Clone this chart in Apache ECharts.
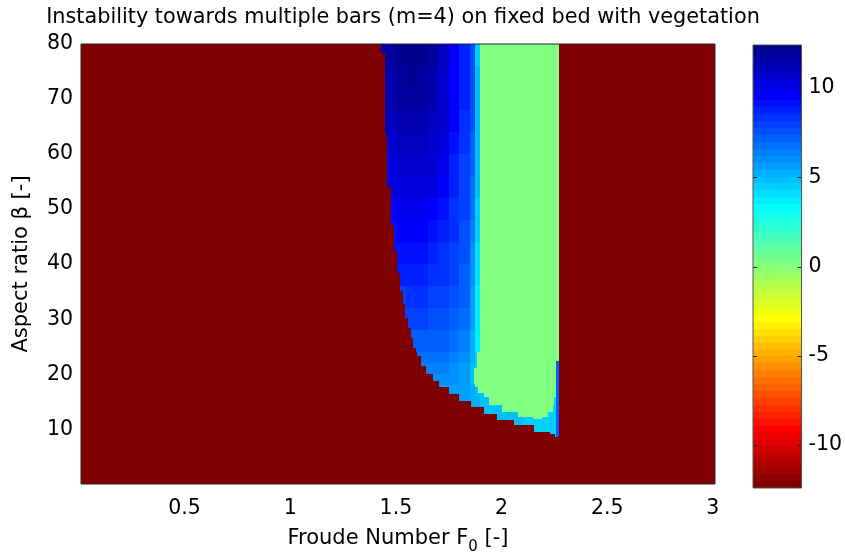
<!DOCTYPE html>
<html><head><meta charset="utf-8">
<script src="https://cdn.jsdelivr.net/npm/echarts@6/dist/echarts.min.js"></script>
<style>html,body{margin:0;padding:0;background:#fff}#c{width:845px;height:560px}</style>
</head><body><div id="c"></div>
<script>
// ---------------- data ----------------
const titleText = 'Instability towards multiple bars (m=4) on fixed bed with vegetation';
const xRange = [0.01, 3.01];
const yRange = [0.05, 80];
const xTicks = [0.5, 1, 1.5, 2, 2.5, 3];
const yTicks = [10, 20, 30, 40, 50, 60, 70, 80];
const cbTicks = [-10, -5, 0, 5, 10];
const cRange = [-12.42, 12.42];
const stableValue = -12.42;     // stable area (dark red)
const greenValue = 0;           // plateau (light green)

// left boundary of the unstable region: step tops (beta) and x (F0) of each step
const leftStepTop = [80, 78.4, 63.6, 54.0, 47.1, 42.3, 38.4, 35.1, 32.7, 30.3, 28.4, 26.6, 24.8, 23.3, 21.5, 20.0, 18.8, 17.6, 16.4, 15.2, 14.0, 12.8, 11.6, 10.7, 9.5, 9.2];
const leftStepX   = [1.428, 1.447, 1.460, 1.476, 1.489, 1.504, 1.520, 1.532, 1.545, 1.558, 1.570, 1.583, 1.596, 1.618, 1.641, 1.674, 1.705, 1.752, 1.800, 1.854, 1.917, 1.980, 2.059, 2.154, 2.230, 2.255];
const leftStepBottom = 8.6;
const rightEdgeX = 2.274;

// growth rate in the unstable region (row bands of beta, column bands of F0)
const valRowEdges = [80, 76, 72, 68, 64, 60, 56, 52, 48, 44, 40, 36, 32, 28, 24, 22, 20, 18, 16, 14, 12, 10, 8];
const valColEdges = [1.40, 1.45, 1.50, 1.55, 1.60, 1.65, 1.70, 1.75, 1.80, 1.85, 1.875, 1.90, 1.95, 2.00, 2.05, 2.10, 2.15, 2.20, 2.25, 2.30];
const _ = null;
const valRows = [
  [11.1, 11.8, 12.2, 12.3, 12.2, 11.7, 10.9, 9.6, 8.7, 7.4, 4.5, _, _, _, _, _, _, _, _],
  [11.0, 11.6, 12.0, 12.1, 12.0, 11.6, 10.8, 9.6, 8.7, 7.6, 4.7, _, _, _, _, _, _, _, _],
  [11.2, 11.4, 11.7, 11.8, 11.7, 11.4, 10.7, 9.6, 8.7, 7.6, 4.9, _, _, _, _, _, _, _, _],
  [10.9, 11.0, 11.4, 11.5, 11.4, 11.1, 10.5, 9.4, 8.5, 7.4, 4.9, _, _, _, _, _, _, _, _],
  [10.6, 10.7, 11.0, 11.1, 11.0, 10.8, 10.2, 9.0, 8.3, 7.2, 4.9, _, _, _, _, _, _, _, _],
  [_, 10.4, 10.7, 10.8, 10.7, 10.5, 9.8, 8.8, 8.1, 7.0, 4.7, _, _, _, _, _, _, _, _],
  [_, 10.1, 10.3, 10.4, 10.3, 10.1, 9.5, 8.7, 7.9, 6.8, 4.7, _, _, _, _, _, _, _, _],
  [_, 9.6, 9.8, 9.9, 9.8, 9.6, 9.0, 8.5, 7.8, 6.6, 4.5, _, _, _, _, _, _, _, _],
  [_, 9.3, 9.4, 9.5, 9.4, 9.2, 8.8, 8.3, 7.6, 6.4, 4.3, _, _, _, _, _, _, _, _],
  [_, 9.0, 9.0, 9.1, 9.0, 8.8, 8.5, 8.1, 7.4, 6.2, 4.1, _, _, _, _, _, _, _, _],
  [_, _, 8.6, 8.7, 8.6, 8.4, 8.2, 7.9, 7.2, 6.0, 3.9, _, _, _, _, _, _, _, _],
  [_, _, 8.1, 8.2, 8.2, 8.0, 7.8, 7.6, 7.0, 5.8, 3.8, _, _, _, _, _, _, _, _],
  [_, _, 7.8, 7.8, 7.8, 7.6, 7.5, 7.2, 6.8, 5.6, 3.7, _, _, _, _, _, _, _, _],
  [_, _, _, 7.2, 7.3, 7.2, 7.0, 6.8, 6.4, 5.4, 3.7, _, _, _, _, _, _, _, _],
  [_, _, _, _, 6.8, 6.8, 6.7, 6.4, 6.0, 5.2, 4.3, _, _, _, _, _, _, _, _],
  [_, _, _, _, 6.4, 6.5, 6.4, 6.2, 5.8, 5.0, 4.6, _, _, _, _, _, _, _, _],
  [_, _, _, _, _, 6.1, 6.1, 5.9, 5.6, 4.9, 4.7, 4.8, _, _, _, _, _, _, _],
  [_, _, _, _, _, _, 5.8, 5.7, 5.5, 5.2, 4.9, 4.8, _, _, _, _, _, _, _],
  [_, _, _, _, _, _, _, 5.6, 5.5, 5.3, 5.2, 5.0, 4.9, 4.85, _, _, _, 4.4, 4.3],
  [_, _, _, _, _, _, _, _, _, _, _, 5.0, 4.9, 4.8, 4.7, 4.6, 4.5, 4.3, 4.3],
  [_, _, _, _, _, _, _, _, _, _, _, _, 4.9, 4.8, 4.7, 4.6, 4.5, 4.4, 4.4],
  [_, _, _, _, _, _, _, _, _, _, _, _, _, _, _, 4.7, 4.6, 4.5, 4.5]
];

// green plateau, as bands of beta with their F0 extent
const greenBottom = [24.0, 21.1, 18.2, 17.6, 16.5, 15.8, 14.4, 13.2, 12.3, 11.8];
const greenTop    = [80.0, 24.0, 21.1, 18.2, 17.6, 16.5, 15.8, 14.4, 13.2, 12.3];
const greenLeft   = [1.898, 1.883, 1.870, 1.876, 1.890, 1.917, 1.940, 2.000, 2.080, 2.150];
const greenRight  = [2.274, 2.274, 2.274, 2.274, 2.274, 2.274, 2.250, 2.245, 2.220, 2.190];

// thin strip along the right edge
const stripX = [2.258, 2.274];
const stripY = [8.6, 22.4];
const stripValue = 7.0;

// ---------------- build cells ----------------
const cells = [];
cells.push([xRange[0], xRange[1], yRange[0], yRange[1], stableValue]);
for (let r = 0; r < valRows.length; r++) {
  const y1 = valRowEdges[r], y0 = valRowEdges[r + 1];
  for (let c = 0; c < valColEdges.length - 1; c++) {
    const v = valRows[r][c];
    if (v == null) continue;
    const cx0 = valColEdges[c], cx1 = Math.min(valColEdges[c + 1], rightEdgeX);
    for (let s = 0; s < leftStepX.length; s++) {
      const sTop = leftStepTop[s];
      const sBot = s + 1 < leftStepTop.length ? leftStepTop[s + 1] : leftStepBottom;
      const a = Math.max(y0, sBot), b = Math.min(y1, sTop);
      const xa = Math.max(cx0, leftStepX[s]);
      if (b > a && cx1 > xa) cells.push([xa, cx1, a, b, v]);
    }
  }
}
for (let i = 0; i < greenLeft.length; i++) {
  cells.push([greenLeft[i], greenRight[i], greenBottom[i], greenTop[i], greenValue]);
}
cells.push([stripX[0], stripX[1], stripY[0], stripY[1], stripValue]);

// ---------------- colormap: flipped jet(64) ----------------
function jet64() {
  const u = i => i <= 16 ? i / 16 : (i <= 31 ? 1 : (48 - i) / 16);
  const out = [];
  for (let k = 1; k <= 64; k++) {
    const R = k >= 25 ? u(k - 24) : 0;
    const G = (k >= 9 && k <= 55) ? u(k - 8) : 0;
    const B = k <= 39 ? u(k + 8) : 0;
    const h = x => Math.round(x * 255).toString(16).padStart(2, '0');
    out.push('#' + h(R) + h(G) + h(B));
  }
  return out;
}
const cmap = jet64().reverse();
const nC = cmap.length;
const w = (cRange[1] - cRange[0]) / nC;
const pieces = cmap.map((col, i) => {
  const lo = cRange[0] + i * w, hi = cRange[0] + (i + 1) * w;
  return i === nC - 1 ? { gte: lo, lte: hi + 1e-9, color: col } : { gte: lo, lt: hi, color: col };
});
const cbCells = cmap.map((col, i) => [0, 1, cRange[0] + i * w, cRange[0] + (i + 1) * w, cRange[0] + (i + 0.5) * w]);

function rectItem(params, api) {
  const p0 = api.coord([api.value(0), api.value(3)]);
  const p1 = api.coord([api.value(1), api.value(2)]);
  const x0 = Math.round(p0[0]), x1 = Math.round(p1[0]);
  const y0 = Math.round(p0[1]), y1 = Math.round(p1[1]);
  return { type: 'rect', shape: { x: x0, y: y0, width: x1 - x0, height: y1 - y0 },
           style: { fill: api.visual('color') } };
}
// inward colorbar ticks on both edges
function tickItem(params, api) {
  const a = api.coord([0, api.value(0)]);
  const b = api.coord([1, api.value(0)]);
  const y = Math.round(a[1]) + 0.5;
  const L = 4;
  return { type: 'group', children: [
    { type: 'line', shape: { x1: a[0], y1: y, x2: a[0] + L, y2: y }, style: { stroke: '#222', lineWidth: 1 } },
    { type: 'line', shape: { x1: b[0] - L, y1: y, x2: b[0], y2: y }, style: { stroke: '#222', lineWidth: 1 } }
  ] };
}

const FONT = 'DejaVu Sans';
const FS = 20.5;
const chart = echarts.init(document.getElementById('c'));
chart.setOption({
  animation: false,
  backgroundColor: '#fff',
  textStyle: { fontFamily: FONT },
  title: { text: titleText, left: 398, top: 2, textAlign: 'center',
           textStyle: { fontFamily: FONT, fontSize: 20.8, fontWeight: 'normal', color: '#000' } },
  grid: [
    { left: 81, top: 44, width: 634, height: 444, show: true, z: 10, borderColor: '#262626', borderWidth: 1, backgroundColor: 'transparent' },
    { left: 753, top: 45, width: 49, height: 443, show: true, z: 10, borderColor: '#555', borderWidth: 1, backgroundColor: 'transparent' }
  ],
  xAxis: [
    { type: 'value', gridIndex: 0, min: xRange[0], max: xRange[1],
      axisLine: { show: false }, splitLine: { show: false }, axisTick: { show: false },
      axisLabel: { customValues: xTicks, fontSize: FS, color: '#000', margin: 14, fontFamily: FONT },
      name: 'Froude Number F{sub|0} [-]', nameLocation: 'middle', nameGap: 39,
      nameTextStyle: { fontSize: 21, color: '#000', fontFamily: FONT,
        rich: { sub: { fontSize: 15, fontFamily: FONT, color: '#000', padding: [17, 0, 0, 0] } } } },
    { type: 'value', gridIndex: 1, min: 0, max: 1, show: false }
  ],
  yAxis: [
    { type: 'value', gridIndex: 0, min: yRange[0], max: yRange[1],
      axisLine: { show: false }, splitLine: { show: false }, axisTick: { show: false },
      axisLabel: { customValues: yTicks, fontSize: FS, color: '#000', margin: 8, fontFamily: FONT },
      name: 'Aspect ratio β [-]', nameLocation: 'middle', nameGap: 49,
      nameTextStyle: { fontSize: 21, color: '#000', fontFamily: FONT } },
    { type: 'value', gridIndex: 1, min: cRange[0], max: cRange[1], position: 'right',
      axisLine: { show: false }, splitLine: { show: false }, axisTick: { show: false },
      axisLabel: { customValues: cbTicks, fontSize: FS, color: '#000', margin: 7, fontFamily: FONT } }
  ],
  visualMap: { type: 'piecewise', show: false, dimension: 4, seriesIndex: [0, 1], pieces: pieces },
  series: [
    { type: 'custom', xAxisIndex: 0, yAxisIndex: 0, clip: true, renderItem: rectItem,
      encode: { x: [0, 1], y: [2, 3] }, data: cells },
    { type: 'custom', xAxisIndex: 1, yAxisIndex: 1, clip: true, renderItem: rectItem,
      encode: { x: [0, 1], y: [2, 3] }, data: cbCells },
    { type: 'custom', xAxisIndex: 1, yAxisIndex: 1, z: 5, renderItem: tickItem,
      encode: { y: 0 }, data: cbTicks.map(v => [v]) }
  ]
});
</script></body></html>
